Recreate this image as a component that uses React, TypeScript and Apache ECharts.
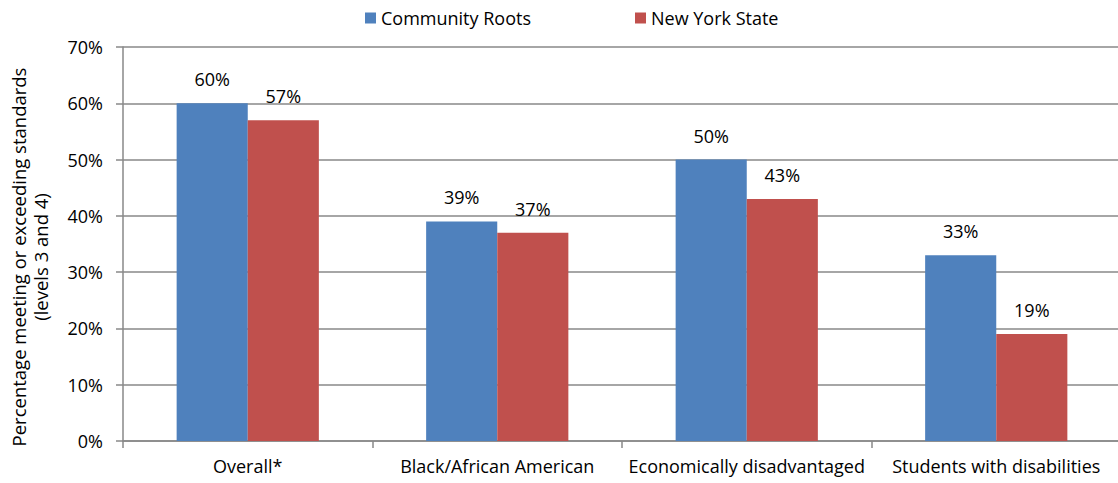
import React, { useEffect, useRef } from "react";
import * as echarts from "echarts";

const categories = ["Overall*", "Black/African American", "Economically disadvantaged", "Students with disabilities"];
const communityRoots = [60, 39, 50, 33];
const newYorkState = [57, 37, 43, 19];
const seriesNames = ["Community Roots", "New York State"];
const yAxisTitle = "Percentage meeting or exceeding standards\n(levels 3 and 4)";

const FONT = "'Open Sans', sans-serif";
const FS = 18;

export default function App() {
  const ref = useRef<HTMLDivElement>(null);
  useEffect(() => {
    if (!ref.current) return;
    const chart = echarts.init(ref.current, null, { renderer: "svg" });
    const labelStyle = {
      show: true,
      position: "top" as const,
      distance: 15,
      formatter: "{c}%",
      color: "#000",
      fontSize: FS,
      fontFamily: FONT,
    };
    chart.setOption({
      animation: false,
      textStyle: { fontFamily: FONT },
      legend: {
        top: 4,
        left: 360,
        itemWidth: 11,
        itemHeight: 11,
        itemGap: 104,
        icon: "rect",
        textStyle: { fontSize: FS, color: "#000", fontFamily: FONT },
        data: seriesNames,
      },
      grid: { left: 123, right: -3, top: 47, bottom: 42, containLabel: false, outerBoundsMode: "none" },
      xAxis: {
        type: "category",
        data: categories,
        axisLine: { show: true, lineStyle: { color: "#888", width: 1.5 } },
        axisTick: { show: true, length: 7, lineStyle: { color: "#888", width: 1.5 } },
        axisLabel: { color: "#000", fontSize: FS, margin: 16, fontFamily: FONT, interval: 0 },
      },
      yAxis: {
        type: "value",
        min: 0,
        max: 70,
        interval: 10,
        name: yAxisTitle,
        nameLocation: "middle",
        nameGap: 72,
        nameTextStyle: { color: "#000", fontSize: 18.5, fontFamily: FONT, lineHeight: 22, padding: [0, 26, 0, 0] },
        axisLine: { show: true, lineStyle: { color: "#888", width: 1.5 } },
        axisTick: { show: true, length: 7, lineStyle: { color: "#888", width: 1.5 } },
        axisLabel: { color: "#000", fontSize: FS, margin: 20, formatter: "{value}%", fontFamily: FONT },
        splitLine: { show: true, lineStyle: { color: "#888", width: 1.5 } },
      },
      series: [
        {
          name: seriesNames[0],
          type: "bar",
          data: communityRoots,
          itemStyle: { color: "#4F81BD" },
          barGap: "0%",
          barCategoryGap: "43%",
          label: labelStyle,
        },
        {
          name: seriesNames[1],
          type: "bar",
          data: newYorkState,
          itemStyle: { color: "#C0504D" },
          barGap: "0%",
          barCategoryGap: "43%",
          label: labelStyle,
        },
      ],
    });
    return () => chart.dispose();
  }, []);
  return <div ref={ref} style={{ width: 1118, height: 483, position: "absolute", left: 0, top: 0 }} />;
}
